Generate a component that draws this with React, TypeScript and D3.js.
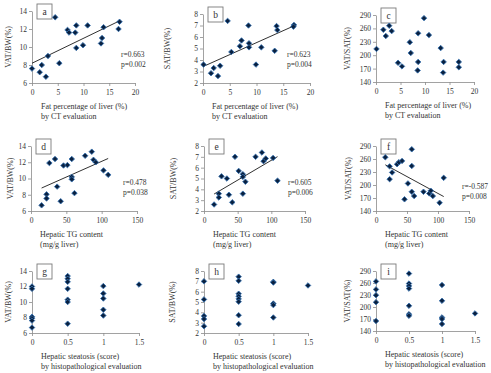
import React, { useRef, useEffect } from 'react';
import * as d3 from 'd3';

type Pt = [number, number];

// liver fat by CT (%) vs fat depot ratios
const vatVsFat: Pt[] = [
    [0, 7.6], [1.5, 7.2], [1.9, 8.0], [2.7, 6.7], [3.1, 9.0], [4.5, 13.3],
    [5.3, 8.2], [6.9, 11.9], [7.2, 11.6], [8.4, 11.6], [8.6, 12.4], [8.6, 9.9],
    [9.9, 10.2], [10.8, 12.4], [13.4, 10.4], [13.6, 11.0], [13.9, 12.2],
    [17.0, 12.8], [16.8, 12.0],
];
const satVsFat: Pt[] = [
    [0.1, 3.6], [1.5, 2.85], [2.0, 3.3], [2.8, 2.6], [3.2, 3.5], [4.6, 7.4],
    [5.3, 4.7], [6.9, 5.2], [7.2, 5.7], [8.5, 7.0], [8.6, 5.45], [8.6, 5.1],
    [9.9, 3.6], [10.9, 5.1], [13.4, 4.8], [13.75, 6.95], [13.9, 6.6],
    [17.0, 7.05], [16.9, 6.9],
];
const ratioVsFat: Pt[] = [
    [0.1, 214], [1.5, 257], [2.0, 243], [2.7, 266], [3.2, 254], [4.5, 183],
    [5.3, 175], [6.9, 229], [7.1, 205], [8.6, 249], [8.6, 185], [8.5, 166],
    [9.8, 283], [10.8, 245], [13.2, 216], [13.8, 185], [13.7, 161],
    [16.9, 185], [16.9, 173],
];

// hepatic TG content (mg/g liver)
const vatVsTg: Pt[] = [
    [15, 6.7], [22, 8.05], [22, 7.55], [26, 11.9], [34, 12.4], [37, 9.0],
    [42, 7.2], [46, 11.6], [51.5, 11.65], [57.7, 12.4], [57.7, 10.2],
    [57.7, 9.9], [61.5, 8.2], [76.6, 12.8], [86, 13.3], [88.4, 12.3],
    [91.7, 12.0], [102.6, 11.0], [109.2, 10.45],
];
const satVsTg: Pt[] = [
    [15, 2.6], [22, 3.6], [22, 3.25], [26, 5.2], [34, 5.0], [37, 3.5],
    [42, 2.8], [46, 7.0], [51.5, 5.7], [57.7, 5.4], [57.7, 5.15], [57.7, 3.6],
    [61.5, 4.7], [76.6, 7.0], [86, 7.4], [88.4, 6.6], [91.7, 6.85],
    [102.6, 6.9], [109.2, 4.8],
];
const ratioVsTg: Pt[] = [
    [15, 264], [22, 243], [22, 213.5], [26, 229], [34, 248], [37, 252.6],
    [42, 255.6], [46, 167], [51.5, 203.6], [57.7, 282.4], [57.7, 244],
    [57.7, 184.4], [61.5, 174.5], [76.6, 184.4], [86, 180.6], [88.4, 186.7],
    [91.7, 174.5], [102.6, 159], [109.2, 216.5],
];

// histopathological steatosis score
const vatVsScore: Pt[] = [
    [0, 12.0], [0, 11.7], [0, 8.1], [0, 7.9], [0, 7.6], [0, 6.7],
    [0.5, 13.35], [0.5, 13.0], [0.5, 12.6], [0.5, 11.7], [0.5, 10.3],
    [0.5, 10.0], [0.5, 7.2],
    [1, 12.05], [1, 11.1], [1, 10.45], [1, 9.0], [1, 8.25],
    [1.5, 12.25],
];
const satVsScore: Pt[] = [
    [0, 7.0], [0, 5.25], [0, 3.65], [0, 3.35], [0, 2.65],
    [0.5, 7.45], [0.5, 7.05], [0.5, 5.8], [0.5, 5.55], [0.5, 5.3],
    [0.5, 5.03], [0.5, 3.72], [0.5, 2.87],
    [1, 6.95], [1, 6.88], [1, 4.85], [1, 4.7], [1, 3.5],
    [1.5, 6.6],
];
const ratioVsScore: Pt[] = [
    [0, 264], [0, 244], [0, 229.5], [0, 212], [0, 165],
    [0.5, 283.5], [0.5, 258.6], [0.5, 252.7], [0.5, 246], [0.5, 203],
    [0.5, 182], [0.5, 178],
    [1, 255], [1, 215.5], [1, 174], [1, 170], [1, 157.5],
    [1.5, 184],
];

const fatTicks = [0, 5, 10, 15, 20];
const tgTicks = [0, 50, 100, 150];
const scoreTicks = [0, 0.5, 1, 1.5];
const vatTicks = [6, 8, 10, 12, 14];
const satTicks = [2, 3, 4, 5, 6, 7, 8];
const ratioTicks = [140, 170, 200, 230, 260, 290];

const fatTitle = ['Fat percentage of liver (%)', 'by CT evaluation'];
const tgTitle = ['Hepatic TG content', '(mg/g liver)'];
const scoreTitle = ['Hepatic steatosis (score)', 'by histopathological evaluation'];

interface Panel {
    letter: string;
    points: Pt[];
    xTicks: number[];
    yTicks: number[];
    yTitle: string;
    xTitle: string[];
    stats?: [string, string];
    box: { left: number; right: number; top: number; bottom: number };
    statPos?: [number, number];
    yTitleX: number;
}

const panels: Panel[] = [
    { letter: 'a', points: vatVsFat, xTicks: fatTicks, yTicks: vatTicks, yTitle: 'VAT/BW(%)', xTitle: fatTitle,
      stats: ['r=0.663', 'p=0.002'], box: { left: 32, right: 135, top: 11, bottom: 83 }, statPos: [121, 57], yTitleX: 8 },
    { letter: 'b', points: satVsFat, xTicks: fatTicks, yTicks: satTicks, yTitle: 'SAT/BW(%)', xTitle: fatTitle,
      stats: ['r=0.623', 'p=0.004'], box: { left: 203, right: 310, top: 14, bottom: 83 }, statPos: [287, 57], yTitleX: 167 },
    { letter: 'c', points: ratioVsFat, xTicks: fatTicks, yTicks: ratioTicks, yTitle: 'VAT/SAT(%)', xTitle: fatTitle,
      box: { left: 376, right: 474, top: 15, bottom: 82 }, yTitleX: 347 },
    { letter: 'd', points: vatVsTg, xTicks: tgTicks, yTicks: vatTicks, yTitle: 'VAT/BW(%)', xTitle: tgTitle,
      stats: ['r=0.478', 'p=0.038'], box: { left: 31, right: 137, top: 146, bottom: 211 }, statPos: [123, 185], yTitleX: 10 },
    { letter: 'e', points: satVsTg, xTicks: tgTicks, yTicks: satTicks, yTitle: 'SAT/BW(%)', xTitle: tgTitle,
      stats: ['r=0.605', 'p=0.006'], box: { left: 204, right: 305, top: 146, bottom: 211 }, statPos: [288, 185], yTitleX: 173 },
    { letter: 'f', points: ratioVsTg, xTicks: tgTicks, yTicks: ratioTicks, yTitle: 'VAT/SAT(%)', xTitle: tgTitle,
      stats: ['r=-0.587', 'p=0.008'], box: { left: 376, right: 469, top: 146, bottom: 211 }, statPos: [462, 189], yTitleX: 348 },
    { letter: 'g', points: vatVsScore, xTicks: scoreTicks, yTicks: vatTicks, yTitle: 'VAT/BW(%)', xTitle: scoreTitle,
      box: { left: 32, right: 139, top: 271, bottom: 333 }, yTitleX: 8 },
    { letter: 'h', points: satVsScore, xTicks: scoreTicks, yTicks: satTicks, yTitle: 'SAT/BW(%)', xTitle: scoreTitle,
      box: { left: 204, right: 308, top: 271, bottom: 333 }, yTitleX: 172 },
    { letter: 'i', points: ratioVsScore, xTicks: scoreTicks, yTicks: ratioTicks, yTitle: 'VAT/SAT(%)', xTitle: scoreTitle,
      box: { left: 376, right: 475, top: 271, bottom: 331 }, yTitleX: 347 },
];

const FONT = "'Liberation Serif', 'Times New Roman', serif";
const AXIS = '#8a8a8a';
const INK = '#333333';

const App: React.FC = () => {
    const svgRef = useRef<SVGSVGElement | null>(null);

    useEffect(() => {
        if (!svgRef.current) return;
        const svg = d3.select(svgRef.current);
        svg.selectAll('*').remove();

        const diamond = d3.symbol().type(d3.symbolSquare).size(15);

        panels.forEach((p) => {
            const { left, right, top, bottom } = p.box;
            const x = d3.scaleLinear()
                .domain([p.xTicks[0], p.xTicks[p.xTicks.length - 1]])
                .range([left, right]);
            const y = d3.scaleLinear()
                .domain([p.yTicks[0], p.yTicks[p.yTicks.length - 1]])
                .range([bottom, top]);

            const g = svg.append('g').attr('font-family', FONT).attr('fill', INK);

            // axes
            const xAxis = g.append('g')
                .attr('transform', `translate(0,${bottom})`)
                .call(d3.axisBottom(x).tickValues(p.xTicks).tickSize(3).tickSizeOuter(0)
                    .tickFormat((d) => String(d)));
            const yAxis = g.append('g')
                .attr('transform', `translate(${left},0)`)
                .call(d3.axisLeft(y).tickValues(p.yTicks).tickSize(3).tickSizeOuter(0)
                    .tickFormat((d) => String(d)));
            [xAxis, yAxis].forEach((ax) => {
                ax.select('.domain').attr('stroke', AXIS).attr('stroke-width', 0.8);
                ax.selectAll('.tick line').attr('stroke', AXIS).attr('stroke-width', 0.8);
                ax.selectAll('.tick text')
                    .attr('fill', INK)
                    .attr('font-size', 7.5)
                    .attr('font-family', FONT);
                ax.attr('font-size', null).attr('font-family', null);
            });
            xAxis.selectAll('.tick text').attr('dy', null).attr('y', 12);
            yAxis.selectAll('.tick text').attr('x', -5).attr('dy', '0.32em');

            // panel letter
            g.append('rect')
                .attr('x', left + 5)
                .attr('y', top - 7)
                .attr('width', 15)
                .attr('height', 15)
                .attr('fill', '#fff')
                .attr('stroke', '#7a7a7a')
                .attr('stroke-width', 0.9);
            g.append('text')
                .attr('x', left + 12.5)
                .attr('y', top + 3.5)
                .attr('text-anchor', 'middle')
                .attr('font-size', 9.5)
                .text(p.letter);

            // least-squares trend line across the observed range
            if (p.stats) {
                const mx = d3.mean(p.points, (d) => d[0]) as number;
                const my = d3.mean(p.points, (d) => d[1]) as number;
                const sxy = d3.sum(p.points, (d) => (d[0] - mx) * (d[1] - my));
                const sxx = d3.sum(p.points, (d) => (d[0] - mx) ** 2);
                const slope = sxy / sxx;
                const [x0, x1] = d3.extent(p.points, (d) => d[0]) as [number, number];
                const fit = (v: number) => my + slope * (v - mx);
                g.append('line')
                    .attr('x1', x(x0)).attr('y1', y(fit(x0)))
                    .attr('x2', x(x1)).attr('y2', y(fit(x1)))
                    .attr('stroke', '#1a1a1a')
                    .attr('stroke-width', 0.9);
            }

            g.append('g')
                .selectAll('path')
                .data(p.points)
                .join('path')
                .attr('d', diamond)
                .attr('transform', (d) => `translate(${x(d[0])},${y(d[1])}) rotate(45)`)
                .attr('fill', '#0a2140')
                .attr('stroke', '#3470b0')
                .attr('stroke-width', 0.8);

            if (p.stats && p.statPos) {
                const [sx, sy] = p.statPos;
                p.stats.forEach((s, i) => {
                    g.append('text')
                        .attr('x', sx)
                        .attr('y', sy + i * 9.5)
                        .attr('font-size', 7.5)
                        .text(s);
                });
            }

            // axis titles
            g.append('text')
                .attr('transform', `translate(${p.yTitleX},${(top + bottom) / 2}) rotate(-90)`)
                .attr('text-anchor', 'middle')
                .attr('dy', '0.35em')
                .attr('font-size', 8)
                .text(p.yTitle);
            p.xTitle.forEach((line, i) => {
                g.append('text')
                    .attr('x', left + 9)
                    .attr('y', bottom + 26 + i * 10)
                    .attr('font-size', 8)
                    .text(line);
            });
        });
    }, []);

    return (
        <div style={{ position: 'absolute', left: 0, top: 0, width: 491, height: 373, background: '#fff', opacity: 0.999 }}>
            <svg ref={svgRef} width={491} height={373} style={{ display: 'block' }} />
        </div>
    );
};

export default App;
